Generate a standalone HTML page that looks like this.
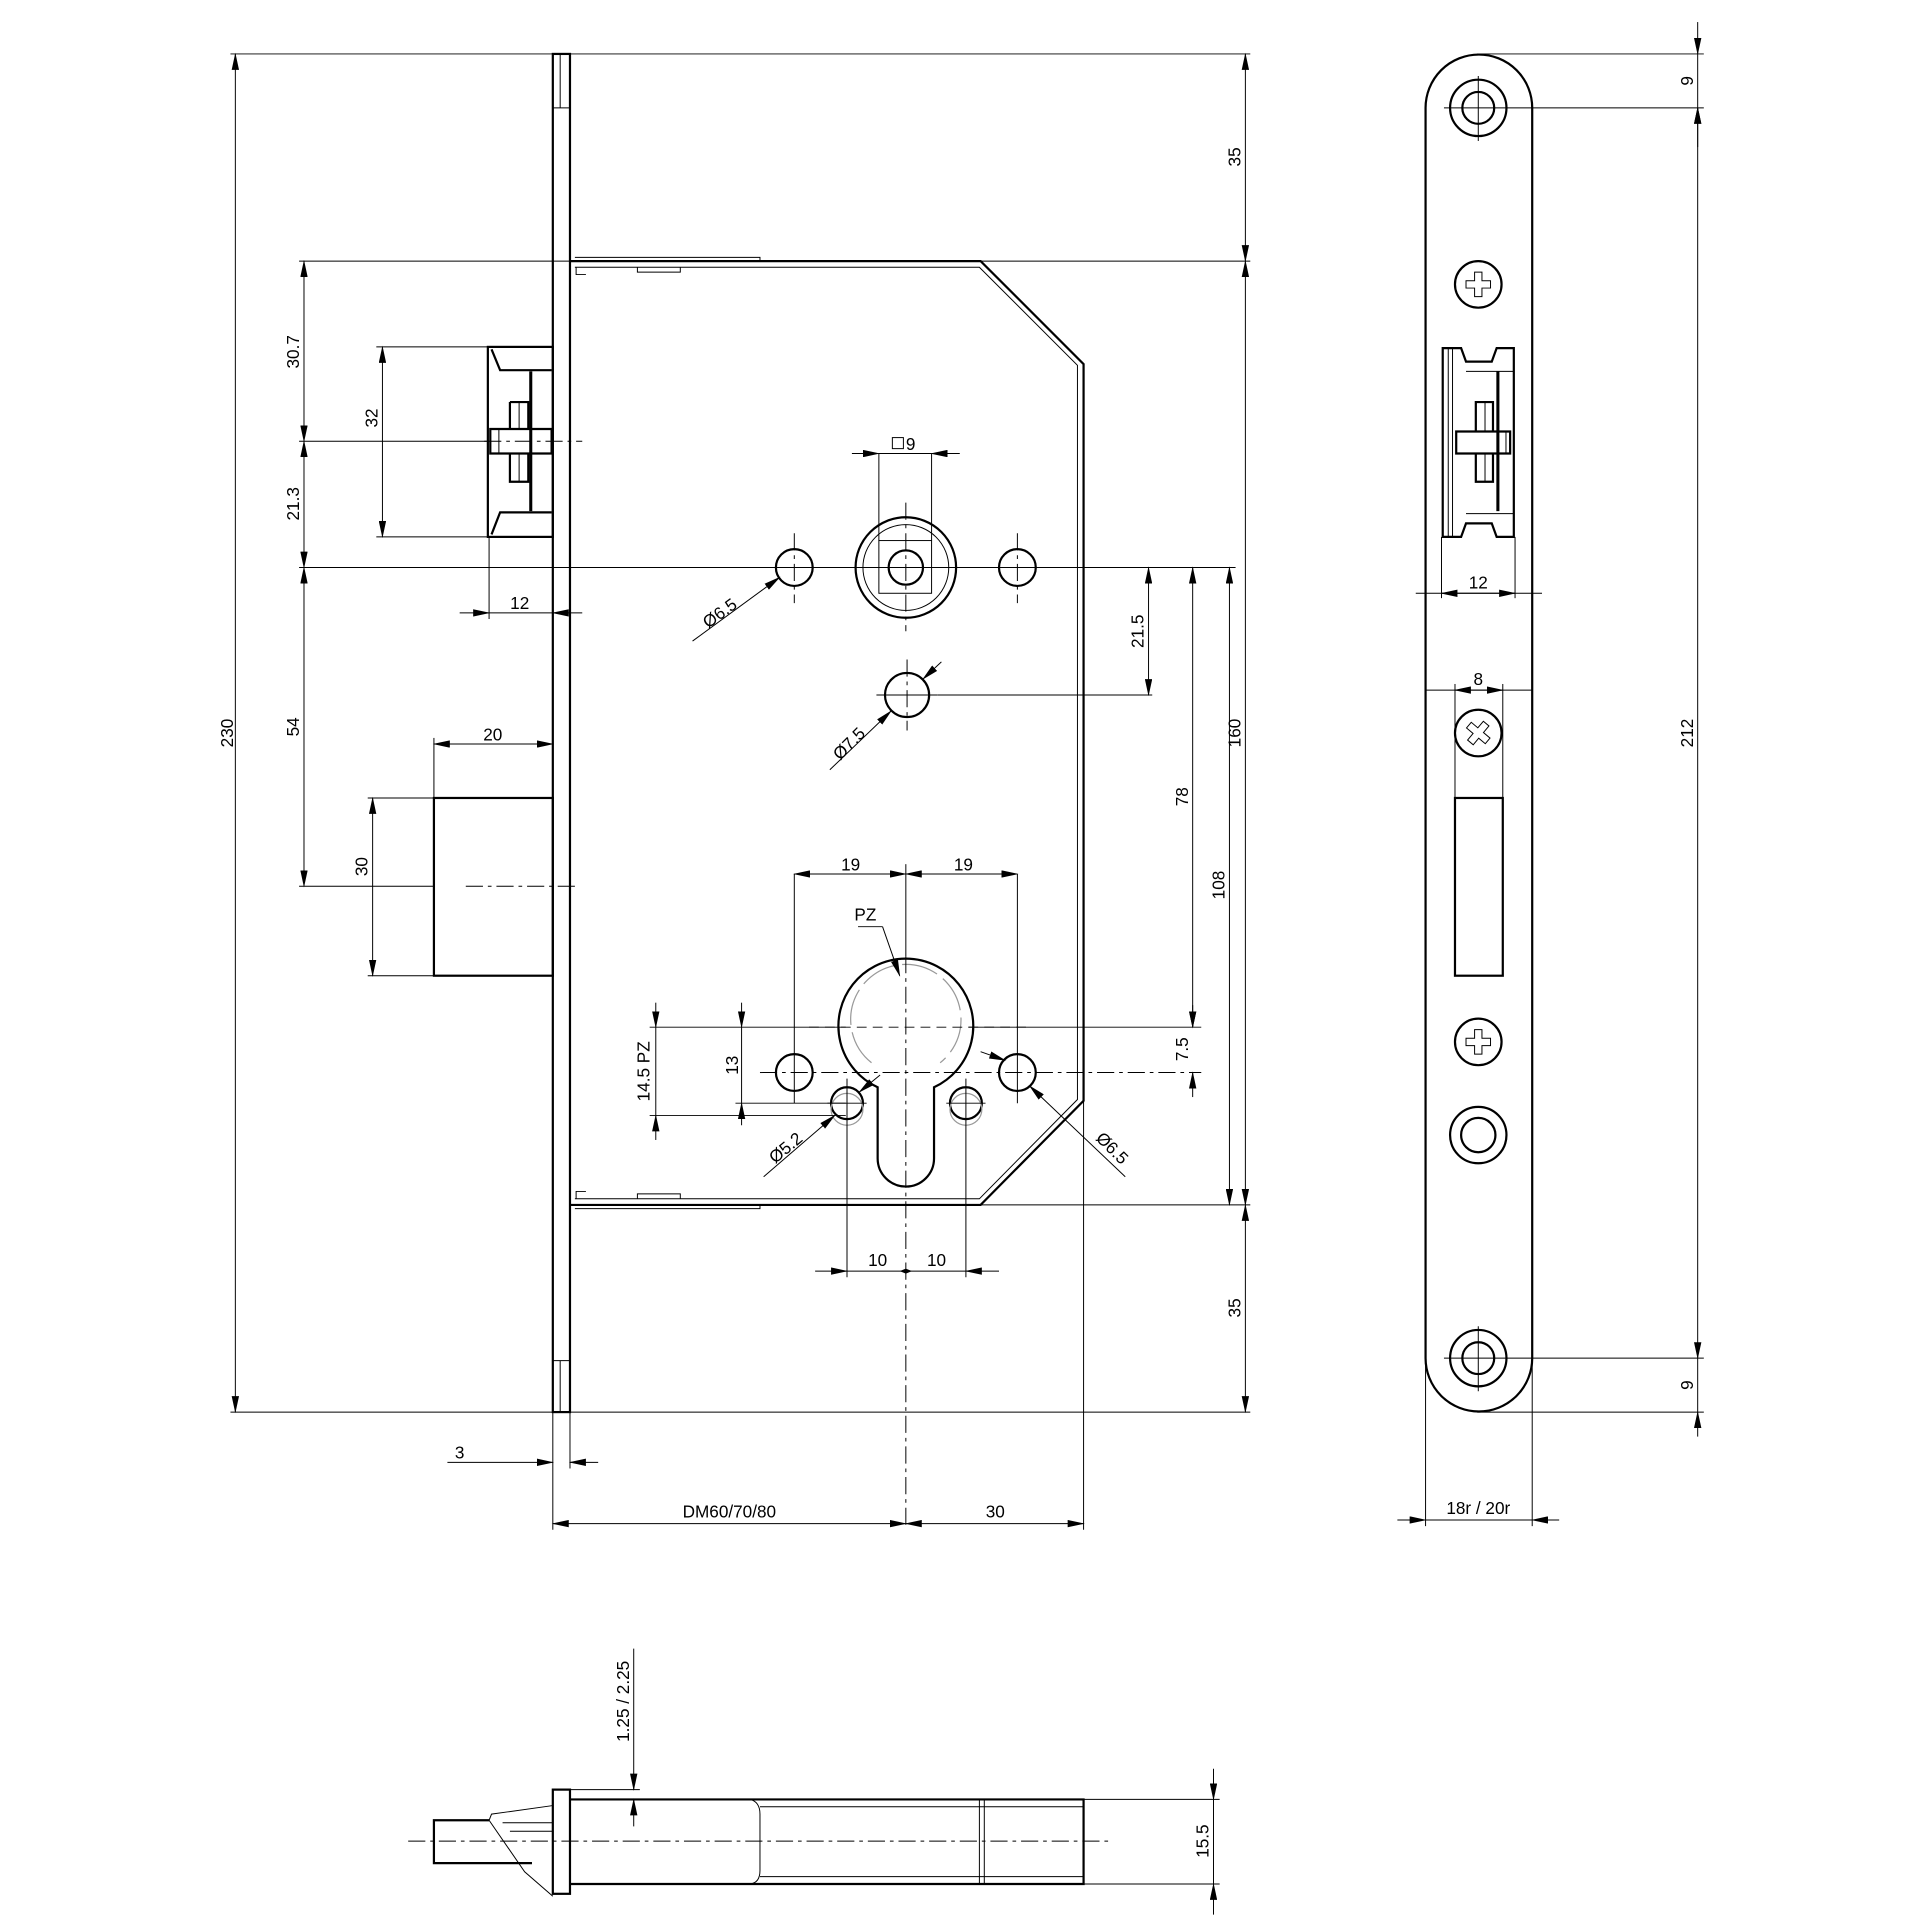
<!DOCTYPE html>
<html><head><meta charset="utf-8"><style>
html,body{margin:0;padding:0;background:#fff}
svg{display:block}
text{font-family:"Liberation Sans",sans-serif;font-size:14px;fill:#000}
.t{stroke:#000;stroke-width:0.8;fill:none}
.m{stroke:#000;stroke-width:1.8;fill:none}
.c{stroke:#000;stroke-width:0.8;fill:none;stroke-dasharray:14 4 3 4}
.d{stroke:#000;stroke-width:0.8;fill:none;stroke-dasharray:8 5}
.g{stroke:#999;stroke-width:1;fill:none}
.a{stroke:#000;stroke-width:0.8;fill:none;marker-start:url(#as);marker-end:url(#ae)}
.o{stroke:#000;stroke-width:0.8;fill:none;marker-end:url(#ae)}
</style></head><body>
<svg width="1922" height="1922" viewBox="0 0 1568 1568" xmlns="http://www.w3.org/2000/svg">
<defs>
<marker id="ae" markerWidth="14" markerHeight="6" refX="13" refY="3" orient="auto" markerUnits="userSpaceOnUse"><path d="M0,0 L14,3 L0,6z" fill="#000"/></marker>
<marker id="as" markerWidth="14" markerHeight="6" refX="1" refY="3" orient="auto" markerUnits="userSpaceOnUse"><path d="M14,0 L0,3 L14,6z" fill="#000"/></marker>
</defs>

<!-- ===== MAIN VIEW ===== -->
<rect x="451" y="44" width="14" height="1108" class="m"/>
<line x1="457" y1="44" x2="457" y2="88" class="t"/><line x1="457" y1="1110" x2="457" y2="1152" class="t"/>
<line x1="451" y1="88" x2="465" y2="88" class="t"/><line x1="451" y1="1110" x2="465" y2="1110" class="t"/>
<path d="M465,213 L800,213 L884,297 L884,898 L800,983 L465,983" class="m"/>
<path d="M469,218 L799,218 L879,298 L879,897 L799,978 L469,978" class="t"/>
<path d="M469,210 L620,210 L620,213 M470,218 L470,224 L478,224 M520,218 L520,222 L555,222 L555,218" class="t"/>
<path d="M469,986 L620,986 L620,983 M470,978 L470,972 L478,972 M520,978 L520,974 L555,974 L555,978" class="t"/>
<!-- latch -->
<rect x="398" y="283" width="53" height="155" class="m"/>
<path d="M401,285 L408,302 L450,302 M401,436 L408,418 L450,418" class="m"/>
<line x1="433" y1="303" x2="433" y2="417" stroke="#000" stroke-width="2.5"/>
<path d="M400,350 L450,350 L450,370 L400,370 Z M416,328 L431,328 L431,350 M416,350 L416,328 M416,370 L416,393 L431,393 L431,370" class="m" fill="#fff"/>
<path d="M407,350 v20 M423.5,328 v22 M423.5,370 v23" class="t"/>
<line x1="395" y1="360" x2="475" y2="360" class="c"/>
<!-- deadbolt -->
<rect x="354" y="651" width="97" height="145" class="m"/>
<line x1="380" y1="723" x2="470" y2="723" class="c"/>
<!-- spindle -->
<circle cx="739" cy="463" r="41" class="m"/>
<circle cx="739" cy="463" r="35" class="t"/>
<rect x="717" y="441" width="43" height="43" class="t"/>
<circle cx="739" cy="463" r="14" class="m"/>
<circle cx="648" cy="463" r="15" class="m"/><circle cx="830" cy="463" r="15" class="m"/>
<line x1="739" y1="410" x2="739" y2="515" class="c"/>
<line x1="648" y1="435" x2="648" y2="492" class="c"/><line x1="830" y1="435" x2="830" y2="492" class="c"/>
<circle cx="740" cy="567" r="18" class="m"/>
<line x1="740" y1="538" x2="740" y2="596" class="c"/>
<line x1="715" y1="567" x2="765" y2="567" class="t"/>
<!-- cylinder -->
<path d="M716,887 A55,55 0 1 1 762,887 L762,945 A23,23 0 0 1 716,945 Z" class="m"/>
<path d="M711,867 A45,45 0 1 1 767,867" class="g" stroke-dasharray="30 6"/>
<line x1="739" y1="780" x2="739" y2="1245" class="c"/>
<line x1="660" y1="838" x2="840" y2="838" class="d"/>
<circle cx="648" cy="875" r="15" class="m"/><circle cx="830" cy="875" r="15" class="m"/>
<line x1="620" y1="875" x2="980" y2="875" class="c"/>
<line x1="648" y1="713" x2="648" y2="900" class="t"/><line x1="830" y1="713" x2="830" y2="900" class="t"/>
<circle cx="691" cy="900" r="13" class="m"/><circle cx="788" cy="900" r="13" class="m"/>
<circle cx="691" cy="905" r="13" class="g"/><circle cx="788" cy="905" r="13" class="g"/>
<line x1="691" y1="880" x2="691" y2="1042" class="t"/><line x1="788" y1="880" x2="788" y2="1042" class="t"/>
<line x1="675" y1="900" x2="707" y2="900" class="t"/><line x1="772" y1="900" x2="804" y2="900" class="t"/>

<!-- dimensions main -->
<line x1="188" y1="44" x2="451" y2="44" class="t"/><line x1="188" y1="1152" x2="451" y2="1152" class="t"/>
<line x1="192" y1="44" x2="192" y2="1152" class="a"/>
<text transform="translate(190,598) rotate(-90)" text-anchor="middle">230</text>
<line x1="465" y1="44" x2="1020" y2="44" class="t"/>
<line x1="800" y1="213" x2="1020" y2="213" class="t"/>
<line x1="800" y1="983" x2="1020" y2="983" class="t"/>
<line x1="465" y1="1152" x2="1020" y2="1152" class="t"/>
<line x1="1016" y1="44" x2="1016" y2="213" class="a"/>
<text transform="translate(1012,128) rotate(-90)" text-anchor="middle">35</text>
<line x1="1016" y1="213" x2="1016" y2="983" class="a"/>
<text transform="translate(1012,598) rotate(-90)" text-anchor="middle">160</text>
<line x1="1016" y1="983" x2="1016" y2="1152" class="a"/>
<text transform="translate(1012,1067) rotate(-90)" text-anchor="middle">35</text>
<line x1="244" y1="463" x2="1008" y2="463" class="t"/>
<line x1="1003" y1="463" x2="1003" y2="983" class="a"/>
<text transform="translate(999,722) rotate(-90)" text-anchor="middle">108</text>
<line x1="973" y1="463" x2="973" y2="838" class="a"/>
<text transform="translate(969,650) rotate(-90)" text-anchor="middle">78</text>
<line x1="790" y1="838" x2="980" y2="838" class="t"/>
<line x1="973" y1="820" x2="973" y2="838" class="o"/>
<line x1="973" y1="895" x2="973" y2="875" class="o"/>
<text transform="translate(969,856) rotate(-90)" text-anchor="middle">7.5</text>
<line x1="765" y1="567" x2="940" y2="567" class="t"/>
<line x1="937" y1="463" x2="937" y2="567" class="a"/>
<text transform="translate(933,515) rotate(-90)" text-anchor="middle">21.5</text>
<line x1="244" y1="213" x2="465" y2="213" class="t"/>
<line x1="244" y1="360" x2="399" y2="360" class="t"/>
<line x1="244" y1="723" x2="354" y2="723" class="t"/>
<line x1="248" y1="213" x2="248" y2="360" class="a"/>
<text transform="translate(244,287) rotate(-90)" text-anchor="middle">30.7</text>
<line x1="248" y1="360" x2="248" y2="463" class="a"/>
<text transform="translate(244,411) rotate(-90)" text-anchor="middle">21.3</text>
<line x1="248" y1="463" x2="248" y2="723" class="a"/>
<text transform="translate(244,593) rotate(-90)" text-anchor="middle">54</text>
<line x1="307" y1="283" x2="399" y2="283" class="t"/><line x1="307" y1="438" x2="399" y2="438" class="t"/>
<line x1="312" y1="283" x2="312" y2="438" class="a"/>
<text transform="translate(308,341) rotate(-90)" text-anchor="middle">32</text>
<line x1="300" y1="651" x2="354" y2="651" class="t"/><line x1="300" y1="796" x2="354" y2="796" class="t"/>
<line x1="304" y1="651" x2="304" y2="796" class="a"/>
<text transform="translate(300,707) rotate(-90)" text-anchor="middle">30</text>
<line x1="399" y1="438" x2="399" y2="505" class="t"/>
<line x1="375" y1="500" x2="399" y2="500" class="o"/>
<line x1="475" y1="500" x2="451" y2="500" class="o"/>
<line x1="399" y1="500" x2="451" y2="500" class="t"/>
<text x="424" y="497" text-anchor="middle">12</text>
<line x1="354" y1="602" x2="354" y2="651" class="t"/>
<line x1="354" y1="607" x2="451" y2="607" class="a"/>
<text x="402" y="604" text-anchor="middle">20</text>
<line x1="365" y1="1193" x2="451" y2="1193" class="o"/>
<line x1="488" y1="1193" x2="465" y2="1193" class="o"/>
<line x1="465" y1="1152" x2="465" y2="1198" class="t"/>
<text x="375" y="1190" text-anchor="middle">3</text>
<line x1="451" y1="1152" x2="451" y2="1248" class="t"/>
<line x1="884" y1="898" x2="884" y2="1248" class="t"/>
<line x1="451" y1="1243" x2="739" y2="1243" class="a"/>
<text x="595" y="1238" text-anchor="middle">DM60/70/80</text>
<line x1="739" y1="1243" x2="884" y2="1243" class="a"/>
<text x="812" y="1238" text-anchor="middle">30</text>
<line x1="648" y1="713" x2="739" y2="713" class="a"/>
<line x1="739" y1="713" x2="830" y2="713" class="a"/>
<line x1="739" y1="705" x2="739" y2="780" class="t"/>
<text x="694" y="710" text-anchor="middle">19</text><text x="786" y="710" text-anchor="middle">19</text>
<line x1="717" y1="370" x2="717" y2="441" class="t"/><line x1="760" y1="370" x2="760" y2="441" class="t"/>
<line x1="695" y1="370" x2="717" y2="370" class="o"/><line x1="783" y1="370" x2="760" y2="370" class="o"/>
<line x1="717" y1="370" x2="760" y2="370" class="t"/>
<rect x="728" y="357" width="9" height="9" class="t"/>
<text x="739" y="367">9</text>
<text x="706" y="751" text-anchor="middle">PZ</text>
<line x1="700" y1="756" x2="720" y2="756" class="t"/>
<line x1="720" y1="756" x2="734" y2="796" class="o"/>
<line x1="530" y1="838" x2="690" y2="838" class="t"/>
<line x1="530" y1="910" x2="690" y2="910" class="t"/>
<line x1="535" y1="818" x2="535" y2="838" class="o"/><line x1="535" y1="930" x2="535" y2="910" class="o"/>
<line x1="535" y1="838" x2="535" y2="910" class="t"/>
<text transform="translate(530,874) rotate(-90)" text-anchor="middle">14.5 PZ</text>
<line x1="600" y1="900" x2="690" y2="900" class="t"/>
<line x1="605" y1="818" x2="605" y2="838" class="o"/><line x1="605" y1="918" x2="605" y2="900" class="o"/>
<line x1="605" y1="838" x2="605" y2="900" class="t"/>
<text transform="translate(602,869) rotate(-90)" text-anchor="middle">13</text>
<line x1="665" y1="1037" x2="691" y2="1037" class="o"/>
<line x1="815" y1="1037" x2="788" y2="1037" class="o"/>
<line x1="691" y1="1037" x2="788" y2="1037" class="t"/>
<path d="M734,1037 L739,1035 L744,1037 L739,1039Z" fill="#000"/>
<text x="716" y="1033" text-anchor="middle">10</text><text x="764" y="1033" text-anchor="middle">10</text>
<line x1="565" y1="523" x2="636" y2="471" class="o"/>
<text transform="translate(590,504) rotate(-36)" text-anchor="middle">Ø6.5</text>
<line x1="677" y1="628" x2="727" y2="580" class="o"/>
<line x1="768" y1="540" x2="753" y2="554" class="o"/>
<text transform="translate(696,610) rotate(-45)" text-anchor="middle">Ø7.5</text>
<line x1="623" y1="960" x2="681" y2="910" class="o"/>
<line x1="718" y1="877" x2="701" y2="891" class="o"/>
<text transform="translate(644,940) rotate(-40)" text-anchor="middle">Ø5.2</text>
<line x1="800" y1="858" x2="820" y2="865" class="o"/>
<line x1="918" y1="960" x2="840" y2="886" class="o"/>
<text transform="translate(904,940) rotate(45)" text-anchor="middle">Ø6.5</text>

<!-- ===== RIGHT VIEW ===== -->
<path d="M1163,88 A43.5,43.5 0 0 1 1250,88 L1250,1108 A43.5,43.5 0 0 1 1163,1108 Z" class="m"/>
<circle cx="1206" cy="88" r="23" class="m"/><circle cx="1206" cy="88" r="13" class="m"/>
<line x1="1206" y1="62" x2="1206" y2="115" class="t"/><line x1="1178" y1="88" x2="1390" y2="88" class="t"/>
<circle cx="1206" cy="1108" r="23" class="m"/><circle cx="1206" cy="1108" r="13" class="m"/>
<line x1="1206" y1="1082" x2="1206" y2="1135" class="t"/><line x1="1178" y1="1108" x2="1390" y2="1108" class="t"/>
<line x1="1205" y1="44" x2="1390" y2="44" class="t"/><line x1="1205" y1="1152" x2="1390" y2="1152" class="t"/>
<circle cx="1206" cy="232" r="19" class="m"/>
<path d="M1203,222 h6 v7 h7 v6 h-7 v7 h-6 v-7 h-7 v-6 h7z" class="t"/>
<circle cx="1206" cy="850" r="19" class="m"/>
<path d="M1203,840 h6 v7 h7 v6 h-7 v7 h-6 v-7 h-7 v-6 h7z" class="t"/>
<circle cx="1206" cy="598" r="19" class="m"/>
<path d="M1203,588 h6 v7 h7 v6 h-7 v7 h-6 v-7 h-7 v-6 h7z" class="t" transform="rotate(40 1206 598)"/>
<circle cx="1206" cy="926" r="23" class="m"/><circle cx="1206" cy="926" r="14" class="m"/>
<!-- right latch -->
<path d="M1177,438 L1177,284 L1192,284 L1196,295 L1217,295 L1221,284 L1235,284 L1235,438 L1221,438 L1217,427 L1196,427 L1192,438 Z" class="m"/>
<path d="M1181.5,284 v154 M1185,284 v154 M1196,303 h39 M1196,419 h39" class="t"/>
<line x1="1222" y1="303" x2="1222" y2="417" stroke="#000" stroke-width="2.5"/>
<path d="M1188,352 h44 v18 h-44 z M1204,352 v-24 h14 v24 M1204,370 v23 h14 v-23" class="m" fill="#fff"/>
<path d="M1211.5,328 v24 M1211.5,370 v23 M1228.6,352 v18" class="t"/>
<line x1="1176" y1="438" x2="1176" y2="488" class="t"/><line x1="1236" y1="438" x2="1236" y2="488" class="t"/>
<line x1="1155" y1="484" x2="1258" y2="484" class="t"/>
<line x1="1176" y1="484" x2="1236" y2="484" class="a"/>
<text x="1206" y="480" text-anchor="middle">12</text>
<rect x="1187" y="651" width="39" height="145" class="m"/>
<line x1="1187" y1="558" x2="1187" y2="651" class="t"/><line x1="1226" y1="558" x2="1226" y2="651" class="t"/>
<line x1="1163" y1="563" x2="1250" y2="563" class="t"/>
<line x1="1187" y1="563" x2="1226" y2="563" class="a"/>
<text x="1206" y="559" text-anchor="middle">8</text>
<line x1="1385" y1="18" x2="1385" y2="44" class="o"/>
<line x1="1385" y1="44" x2="1385" y2="88" class="t"/>
<line x1="1385" y1="1108" x2="1385" y2="88" class="a"/>
<line x1="1385" y1="1108" x2="1385" y2="1152" class="t"/>
<line x1="1385" y1="1172" x2="1385" y2="1152" class="o"/>
<line x1="1385" y1="120" x2="1385" y2="88" class="o"/>
<text transform="translate(1381,66) rotate(-90)" text-anchor="middle">9</text>
<text transform="translate(1381,598) rotate(-90)" text-anchor="middle">212</text>
<text transform="translate(1381,1130) rotate(-90)" text-anchor="middle">9</text>
<line x1="1163" y1="1108" x2="1163" y2="1245" class="t"/><line x1="1250" y1="1108" x2="1250" y2="1245" class="t"/>
<line x1="1140" y1="1240" x2="1163" y2="1240" class="o"/>
<line x1="1272" y1="1240" x2="1250" y2="1240" class="o"/>
<line x1="1163" y1="1240" x2="1250" y2="1240" class="t"/>
<text x="1206" y="1235" text-anchor="middle">18r / 20r</text>

<!-- ===== BOTTOM VIEW ===== -->
<rect x="451" y="1460" width="14" height="85" class="m"/>
<path d="M465,1468 L884,1468 L884,1537 L465,1537" class="m"/>
<path d="M612,1468 Q620,1470 620,1480 L620,1526 Q620,1536 612,1537" class="t"/>
<line x1="620" y1="1474" x2="884" y2="1474" class="t"/><line x1="620" y1="1531" x2="884" y2="1531" class="t"/>
<line x1="799" y1="1468" x2="799" y2="1537" class="t"/><line x1="803" y1="1468" x2="803" y2="1537" class="t"/>
<path d="M354,1510 L354,1485 L399,1485 M354,1510 L354,1520 L434,1520" class="m"/>
<path d="M399,1485 L401,1480 L451,1473 M399,1485 L428,1527 L451,1547 M410,1487 L451,1487 M416,1494 L451,1494" class="t"/>
<line x1="333" y1="1502" x2="905" y2="1502" class="c"/>
<line x1="465" y1="1460" x2="522" y2="1460" class="t"/>
<line x1="517" y1="1345" x2="517" y2="1460" class="o"/>
<line x1="517" y1="1490" x2="517" y2="1468" class="o"/>
<text transform="translate(513,1388) rotate(-90)" text-anchor="middle">1.25 / 2.25</text>
<line x1="884" y1="1468" x2="995" y2="1468" class="t"/><line x1="884" y1="1537" x2="995" y2="1537" class="t"/>
<line x1="990" y1="1443" x2="990" y2="1468" class="o"/>
<line x1="990" y1="1562" x2="990" y2="1537" class="o"/>
<line x1="990" y1="1468" x2="990" y2="1537" class="t"/>
<text transform="translate(986,1502) rotate(-90)" text-anchor="middle">15.5</text>
</svg>
</body></html>
